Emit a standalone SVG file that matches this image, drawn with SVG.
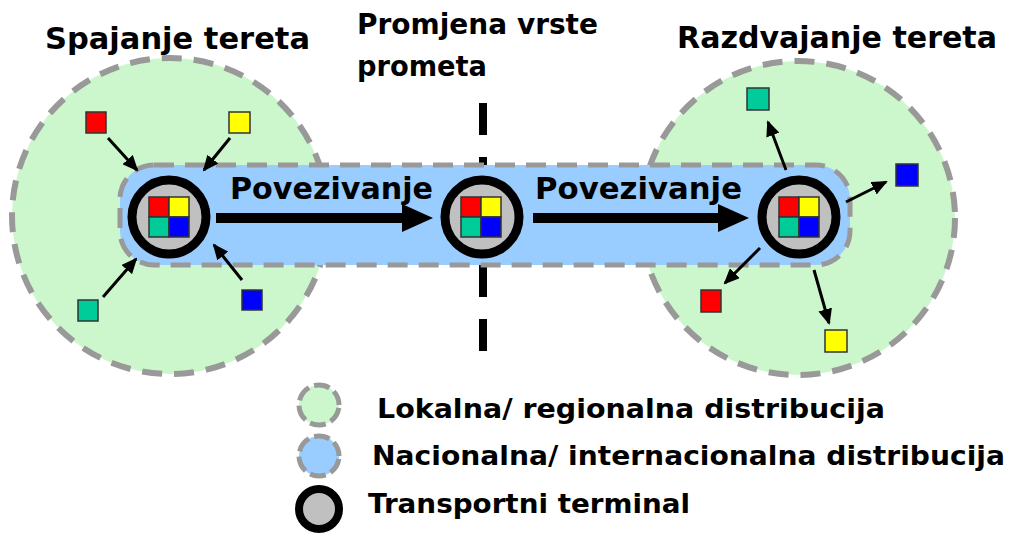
<svg xmlns="http://www.w3.org/2000/svg" width="1014" height="536" viewBox="0 0 1014 536">
<style>
.local{fill:#ccf7cc;stroke:#999;stroke-width:6;stroke-dasharray:20 12}
.nat{fill:#99ccff;stroke:#999;stroke-width:5;stroke-dasharray:20 11}
.term{fill:#c0c0c0;stroke:#000;stroke-width:9}
.sq{stroke:#333;stroke-width:1.5}
.r{fill:#ff0000}.y{fill:#ffff00}.g{fill:#00cc99}.b{fill:#0000ff}
.small{stroke:#000;stroke-width:3;fill:none;marker-end:url(#ah)}
.big{stroke:#000;stroke-width:10}
.t{font-family:"DejaVu Sans",Verdana,sans-serif;font-weight:bold;fill:#000}
</style>
<defs>
<marker id="ah" markerUnits="userSpaceOnUse" markerWidth="16" markerHeight="14" refX="14" refY="7" orient="auto"><path d="M0,0 L16,7 L0,14 z" fill="#000"/></marker>
<g id="grid"><rect class="sq r" x="-20" y="-20" width="20" height="20"/><rect class="sq y" x="0" y="-20" width="20" height="20"/><rect class="sq g" x="-20" y="0" width="20" height="20"/><rect class="sq b" x="0" y="0" width="20" height="20"/></g>
</defs>
<rect width="1014" height="536" fill="#fff"/>
<g id="region-left"><circle class="local" cx="170" cy="216" r="158"/></g>
<g id="region-right"><circle class="local" cx="798" cy="218" r="157"/></g>
<g id="mode-change"><line x1="483" y1="103" x2="483" y2="352" stroke="#000" stroke-width="8" stroke-dasharray="32 22"/></g>
<g id="corridor"><rect class="nat" x="120" y="165" width="730" height="100" rx="34"/></g>
<g id="terminal-left"><circle class="term" cx="169" cy="217" r="37"/><use href="#grid" x="169" y="217"/></g>
<g id="terminal-mid"><circle class="term" cx="482" cy="217" r="37"/><use href="#grid" x="481" y="217"/></g>
<g id="terminal-right"><circle class="term" cx="799" cy="217" r="37"/><use href="#grid" x="799" y="217"/></g>
<g id="sources">
<rect class="sq r" x="86" y="112" width="20" height="21"/>
<rect class="sq y" x="229" y="112" width="21" height="21"/>
<rect class="sq g" x="78" y="300" width="20" height="21"/>
<rect class="sq b" x="242" y="290" width="20" height="20"/>
</g>
<g id="destinations">
<rect class="sq g" x="747" y="88" width="22" height="22"/>
<rect class="sq b" x="896" y="164" width="22" height="22"/>
<rect class="sq r" x="701" y="290" width="20" height="22"/>
<rect class="sq y" x="825" y="330" width="22" height="22"/>
</g>
<g id="connectors">
<line class="small" x1="108" y1="138" x2="137" y2="170"/>
<line class="small" x1="230" y1="138" x2="204" y2="170"/>
<line class="small" x1="103" y1="297" x2="136" y2="259"/>
<line class="small" x1="242" y1="280" x2="214" y2="245"/>
<line class="small" x1="786" y1="170" x2="768" y2="122"/>
<line class="small" x1="846" y1="202" x2="886" y2="182"/>
<line class="small" x1="760" y1="248" x2="725" y2="283"/>
<line class="small" x1="814" y1="270" x2="829" y2="323"/>
<line class="big" x1="216" y1="218" x2="405" y2="218"/>
<polygon points="402,204 433,218 402,232"/>
<line class="big" x1="533" y1="218" x2="721" y2="218"/>
<polygon points="718,204 749,218 718,232"/>
</g>
<g id="labels">
<text class="t" x="45" y="49" font-size="30" textLength="265" lengthAdjust="spacingAndGlyphs">Spajanje tereta</text>
<text class="t" x="357" y="34" font-size="28" textLength="241" lengthAdjust="spacingAndGlyphs">Promjena vrste</text>
<text class="t" x="357" y="76" font-size="28" textLength="130" lengthAdjust="spacingAndGlyphs">prometa</text>
<text class="t" x="677" y="48" font-size="30" textLength="320" lengthAdjust="spacingAndGlyphs">Razdvajanje tereta</text>
<text class="t" x="230" y="199" font-size="30" textLength="203" lengthAdjust="spacingAndGlyphs">Povezivanje</text>
<text class="t" x="535" y="199" font-size="30" textLength="207" lengthAdjust="spacingAndGlyphs">Povezivanje</text>
</g>
<g id="legend">
<circle cx="319" cy="405" r="20" fill="#ccf7cc" stroke="#999" stroke-width="5" stroke-dasharray="16 5.4" stroke-dashoffset="-3"/>
<circle cx="319" cy="456" r="20" fill="#99ccff" stroke="#999" stroke-width="5" stroke-dasharray="16 5.4" stroke-dashoffset="-3"/>
<circle cx="319" cy="509" r="20" fill="#c0c0c0" stroke="#000" stroke-width="8"/>
<text class="t" x="377" y="418" font-size="27" textLength="508" lengthAdjust="spacingAndGlyphs">Lokalna/ regionalna distribucija</text>
<text class="t" x="372" y="465" font-size="27" textLength="633" lengthAdjust="spacingAndGlyphs">Nacionalna/ internacionalna distribucija</text>
<text class="t" x="368" y="513" font-size="27" textLength="322" lengthAdjust="spacingAndGlyphs">Transportni terminal</text>
</g>
</svg>
